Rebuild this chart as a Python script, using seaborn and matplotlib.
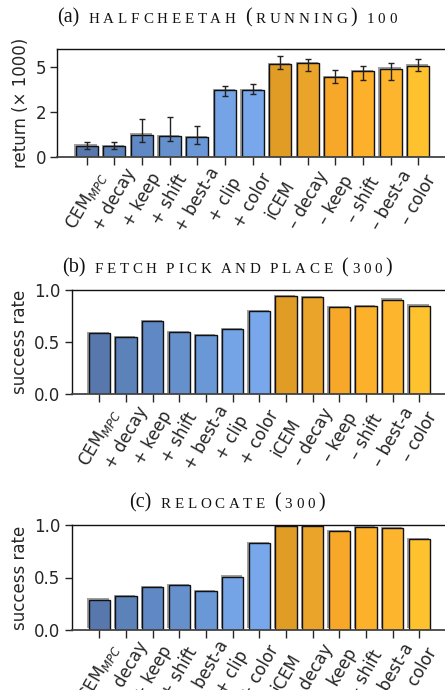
import matplotlib
matplotlib.use("Agg")
import matplotlib.pyplot as plt
import matplotlib.patheffects as pe
from matplotlib.offsetbox import TextArea, HPacker, AnchoredOffsetbox
from matplotlib.ticker import FormatStrFormatter
import seaborn as sns
import pandas as pd

# ---- data -------------------------------------------------------------
methods = [r"CEM$_{MPC}$", "+ decay", "+ keep", "+ shift", "+ best-a", "+ clip",
           "+ color", "iCEM", "– decay", "– keep", "– shift", "– best-a", "– color"]

bar_colors = ["#5878ad", "#5c82ba", "#6088c4", "#6590cc", "#6a97d6", "#74a3e6",
              "#78a8eb", "#e09c25", "#eba42a", "#f7a829", "#fdb02a", "#fcb52d",
              "#ffc22f"]

# halfcheetah running: mean return (x1000) with lower / upper error bounds
cheetah_return = [0.63, 0.62, 1.25, 1.16, 1.10, 3.73, 3.75, 5.19, 5.24, 4.46, 4.79, 4.93, 5.11]
cheetah_low = [0.45, 0.45, 0.86, 0.91, 0.75, 3.38, 3.51, 4.89, 4.81, 4.16, 4.29, 4.31, 4.83]
cheetah_high = [0.86, 0.86, 2.11, 2.22, 1.75, 3.94, 4.07, 5.62, 5.50, 4.85, 5.07, 5.26, 5.45]

fetch_success = [0.585, 0.55, 0.70, 0.594, 0.57, 0.623, 0.80, 0.94, 0.933, 0.837, 0.843, 0.907, 0.85]
relocate_success = [0.288, 0.32, 0.41, 0.428, 0.367, 0.508, 0.827, 0.99, 0.997, 0.942, 0.98, 0.971, 0.869]

titles = [("(a)", "halfcheetah (running) 100"),
          ("(b)", "fetch pick and place (300)"),
          ("(c)", "relocate (300)")]
ylabels = ["return (× 1000)", "success rate", "success rate"]
cheetah_yticks = [0, 2.5, 5]
success_yticks = [0.0, 0.5, 1.0]

# ---- style ------------------------------------------------------------
sns.set_style("ticks")
plt.rcParams["font.family"] = ["DejaVu Sans"]
plt.rcParams["font.size"] = 12
plt.rcParams["axes.linewidth"] = 1.0

W, H = 445, 690
fig = plt.figure(figsize=(W / 100, H / 100), dpi=100)


def px_axes(left, top, bottom, right=445.5):
    return fig.add_axes([left / W, 1 - bottom / H, (right - left) / W, (bottom - top) / H])


def small_caps_title(label, text, y):
    big = dict(family="Liberation Serif", size=14.5, color="#111111")
    small = dict(family="Liberation Serif", size=10.8, color="#111111")
    words = [TextArea(label, textprops=big)]
    for word in text.split(" "):
        pieces = []
        for ch in word:
            if ch in "()":
                pieces.append(TextArea(ch, textprops=big))
            else:
                pieces.append(TextArea(ch.upper(), textprops=small))
        words.append(HPacker(children=pieces, align="baseline", pad=0, sep=2.7))
    box = HPacker(children=words, align="baseline", pad=0, sep=6.5)
    anchored = AnchoredOffsetbox(loc="center", child=box, frameon=False, pad=0, borderpad=0,
                                 bbox_to_anchor=(227 / W, 1 - y / H),
                                 bbox_transform=fig.transFigure)
    fig.add_artist(anchored)


def draw_panel(ax, values, ylabel, yticks, ylim, fmt, xlim, err=None):
    df = pd.DataFrame({"method": methods, "value": values})
    sns.barplot(data=df, x="method", y="value", hue="method", palette=bar_colors,
                saturation=1, legend=False, width=0.8, edgecolor="#111111", linewidth=1.0,
                errorbar=None, ax=ax, order=methods, hue_order=methods)
    for patch in ax.patches:
        patch.set_path_effects([
            pe.SimplePatchShadow(offset=(-0.9, 0.9), shadow_rgbFace="#777777", alpha=0.7),
            pe.Normal()])
    if err is not None:
        lo, hi = err
        yerr = [[v - l for v, l in zip(values, lo)], [h - v for v, h in zip(values, hi)]]
        ax.errorbar(range(len(values)), values, yerr=yerr, fmt="none", ecolor="#222222",
                    elinewidth=1.0, capsize=2.0, capthick=1.0, zorder=5)
    ax.set_xlim(*xlim)
    ax.set_ylim(*ylim)
    ax.set_yticks(yticks)
    ax.yaxis.set_major_formatter(FormatStrFormatter(fmt))
    ax.set_xticks(range(len(methods)))
    ax.set_xticklabels(methods, rotation=60, ha="center", va="center",
                       rotation_mode="anchor")
    ax.tick_params(axis="x", length=6, width=1.0, pad=25)
    ax.tick_params(axis="y", length=5, width=1.0, pad=3)
    ax.set_xlabel("")
    ax.set_ylabel(ylabel)
    for s in ax.spines.values():
        s.set_color("#111111")
        s.set_linewidth(1.0)
    ax.spines["bottom"].set_color("#444444")
    ax.spines["bottom"].set_linewidth(1.3)


ax_a = px_axes(57.3, 48.7, 157)
draw_panel(ax_a, cheetah_return, ylabels[0], cheetah_yticks, (0, 6.05), "%d",
           (-1.065, 12.98), err=(cheetah_low, cheetah_high))
ax_b = px_axes(71.7, 290, 394.3)
draw_panel(ax_b, fetch_success, ylabels[1], success_yticks, (0, 1.0), "%.1f",
           (-1.035, 12.98))
ax_c = px_axes(71.7, 525.3, 629.7)
draw_panel(ax_c, relocate_success, ylabels[2], success_yticks, (0, 1.0), "%.1f",
           (-1.035, 12.98))

for (lab, txt), y in zip(titles, [18, 268, 503]):
    small_caps_title(lab, txt, y)

fig.savefig("out.png", dpi=100)
